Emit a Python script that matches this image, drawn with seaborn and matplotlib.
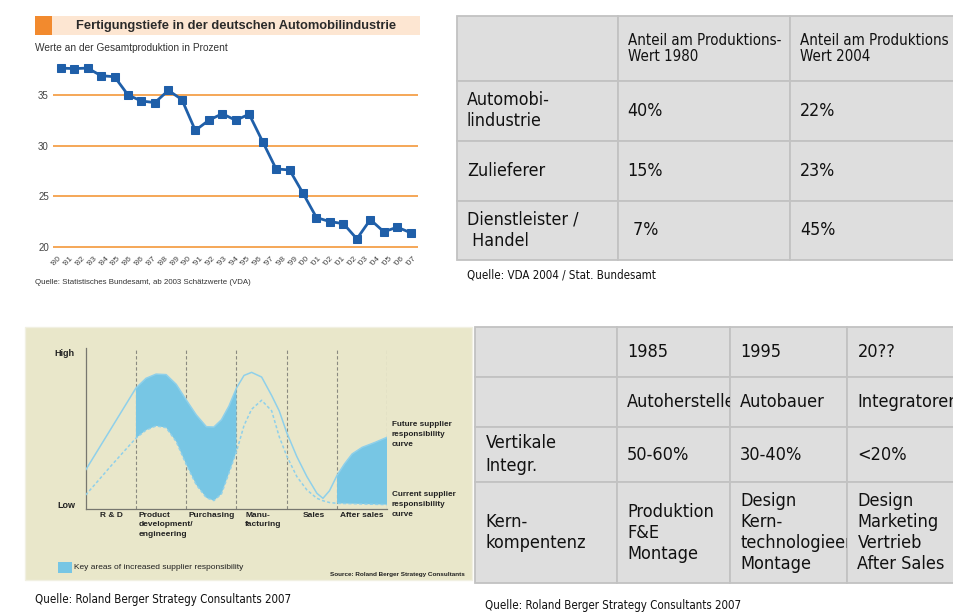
import numpy as np
import pandas as pd
import matplotlib
matplotlib.use("Agg")
import matplotlib.pyplot as plt
import seaborn as sns
from matplotlib.patches import Rectangle

# ---------------- data ----------------
# line chart: Fertigungstiefe
year_labels = ["'80", "'81", "'82", "'83", "'84", "'85", "'86", "'86", "'87", "'88", "'89",
               "'90", "'91", "'92", "'93", "'94", "'95", "'96", "'97", "'98", "'99", "'00",
               "'01", "'02", "'01", "'02", "'03", "'04", "'05", "'06", "'07"]
depth_values = [37.65, 37.6, 37.65, 36.9, 36.8, 35.0, 34.4, 34.25, 35.45, 34.55, 31.5,
                32.5, 33.15, 32.5, 33.1, 30.4, 27.7, 27.6, 25.3, 22.9, 22.5, 22.3, 20.8,
                22.7, 21.5, 21.95, 21.4]
y_ticks = [20, 25, 30, 35]

# table 1
t1_header = ["", "Anteil am Produktions-\nWert 1980", "Anteil am Produktions\nWert 2004"]
t1_rows = ["Automobi-\nlindustrie", "Zulieferer", "Dienstleister /\n Handel"]
t1_1980 = ["40%", "15%", " 7%"]
t1_2004 = ["22%", "23%", "45%"]

# diagram: supplier responsibility
stages = ["R & D", "Product\ndevelopment/\nengineering", "Purchasing", "Manu-\nfacturing",
          "Sales", "After sales"]
curve_x = [0, 0.25, 0.5, 0.75, 1.0, 1.2, 1.4, 1.6, 1.8, 2.0, 2.2, 2.4, 2.55, 2.7, 2.85, 3.0,
           3.15, 3.3, 3.5, 3.7, 3.85, 4.0, 4.2, 4.4, 4.6, 4.72, 4.85, 5.0, 5.15, 5.3, 5.5,
           5.75, 6.0]
future_resp = [24.4, 37.1, 49.8, 62.5, 75.2, 81.2, 83.8, 83.5, 77.5, 67.8, 58.5, 51.2, 51.0,
               55.5, 64.0, 75.2, 83.0, 84.9, 82.0, 70.5, 61.0, 47.5, 32.7, 20.3, 9.9, 6.8,
               11.5, 21.0, 28.2, 34.3, 38.4, 41.4, 44.7]
current_resp = [8.9, 17.8, 26.8, 35.5, 44.1, 49.1, 51.7, 50.6, 42.0, 27.8, 15.2, 7.2, 5.4,
                9.5, 22.4, 35.8, 52.0, 62.0, 67.6, 61.0, 45.0, 33.0, 20.3, 12.0, 6.8, 5.3,
                4.2, 3.7, 3.6, 3.5, 3.3, 3.1, 2.9]
key_areas = [(1, 3), (5, 6)]

# table 2
t2_years = ["", "1985", "1995", "20??"]
t2_types = ["", "Autohersteller", "Autobauer", "Integratoren"]
t2_vert = ["Vertikale\nIntegr.", "50-60%", "30-40%", "<20%"]
t2_kern = ["Kern-\nkompentenz", "Produktion\nF&E\nMontage",
           "Design\nKern-\ntechnologieen\nMontage", "Design\nMarketing\nVertrieb\nAfter Sales"]

# ---------------- setup ----------------
sns.set_theme(style="white")
plt.rcParams['font.family'] = ['DejaVu Sans']

W, H = 954, 614
fig = plt.figure(figsize=(W / 100, H / 100), dpi=100)
fig.patch.set_facecolor('white')

NARROW = ['Liberation Sans Narrow', 'Liberation Sans', 'DejaVu Sans']
TAB = dict(family=['DejaVu Sans'], fontstretch='condensed')


def px_axes(x0, y0, x1, y1):
    return fig.add_axes([x0 / W, 1 - y1 / H, (x1 - x0) / W, (y1 - y0) / H])


bg = px_axes(0, 0, W, H)
bg.set_xlim(0, W)
bg.set_ylim(H, 0)
bg.axis('off')

# ---------------- top-left line chart ----------------
bg.add_patch(Rectangle((35, 16), 17, 19, facecolor='#f28a2e', lw=0))
bg.add_patch(Rectangle((52, 16), 368, 19, facecolor='#fde6d2', lw=0))
bg.text(236, 26, "Fertigungstiefe in der deutschen Automobilindustrie", ha='center',
        va='center', fontsize=9.3, fontweight='bold', color='#2a2a2a', family=NARROW)
bg.text(35, 48, "Werte an der Gesamtproduktion in Prozent", ha='left', va='center',
        fontsize=7.3, color='#333333', family=NARROW)
bg.text(35, 283, "Quelle: Statistisches Bundesamt, ab 2003 Schätzwerte (VDA)", ha='left',
        va='center', fontsize=5.7, color='#333333', family=NARROW)

ax1 = px_axes(53, 60, 418, 250)
ax1.set_facecolor('none')
for yt in y_ticks:
    ax1.axhline(yt, color='#f5a04a', lw=1.3, zorder=1)
df1 = pd.DataFrame({'idx': np.arange(len(depth_values)), 'val': depth_values})
sns.lineplot(data=df1, x='idx', y='val', ax=ax1, color='#1f5fa9', lw=2, marker='s',
             markersize=5.6, markeredgecolor='#1f5fa9', zorder=3)
ax1.set_xlim(-0.57, 26.54)
ax1.set_ylim(19.70, 38.45)
ax1.set_yticks(y_ticks)
ax1.set_yticklabels([str(v) for v in y_ticks], fontsize=7, color='#444444', family=NARROW)
tick_pos = np.linspace(0, len(depth_values) - 1 + 0.3, len(year_labels))
ax1.set_xticks(tick_pos)
ax1.set_xticklabels(year_labels, rotation=45, ha='right', va='center', rotation_mode='anchor',
                    fontsize=6.0, color='#444444', family=NARROW)
ax1.tick_params(axis='both', length=0, pad=3)
ax1.tick_params(axis='x', pad=5)
ax1.set_xlabel('')
ax1.set_ylabel('')
for s in ax1.spines.values():
    s.set_visible(False)
ax1.grid(False)


# ---------------- table helper ----------------
def draw_table(xs, ys, rows, sizes, lsps, pad=10):
    for r, row in enumerate(rows):
        for c, txt in enumerate(row):
            rect = Rectangle((xs[c], ys[r]), xs[c + 1] - xs[c], ys[r + 1] - ys[r],
                             facecolor='#dedede', edgecolor='#c2c2c2', lw=1.3)
            bg.add_patch(rect)
            if txt:
                t = bg.text(xs[c] + pad, (ys[r] + ys[r + 1]) / 2, txt, ha='left',
                            va='center', fontsize=sizes[r], color='#111111',
                            linespacing=lsps[r], clip_on=True, **TAB)
                t.set_clip_path(rect)
                t.set_clip_on(True)


# top-right table
t1_cells = [t1_header] + [[t1_rows[i], t1_1980[i], t1_2004[i]] for i in range(len(t1_rows))]
draw_table([457, 617.7, 790, 1000], [16, 80.7, 140.7, 200.7, 260], t1_cells,
           [10.8, 12.8, 12.8, 12.8], [1.05, 1.25, 1.25, 1.25], pad=10)
bg.text(467, 275, "Quelle: VDA 2004 / Stat. Bundesamt", ha='left', va='center',
        fontsize=8.3, color='#111111', **TAB)

# bottom-right table
t2_cells = [t2_years, t2_types, t2_vert, t2_kern]
draw_table([475, 616.7, 729.7, 847, 1000], [326.7, 376.7, 426.7, 482.3, 583.3], t2_cells,
           [13, 13, 13, 13], [1.25, 1.25, 1.3, 1.22], pad=10.5)
bg.text(485, 606, "Quelle: Roland Berger Strategy Consultants 2007", ha='left',
        va='center', fontsize=8.3, color='#111111', **TAB)

# ---------------- bottom-left diagram ----------------
bg.add_patch(Rectangle((25, 327), 447, 253, facecolor='#e9e7ca', edgecolor='#f1f0e2', lw=1))
bg.text(35, 600, "Quelle: Roland Berger Strategy Consultants 2007", ha='left', va='center',
        fontsize=8.3, color='#111111', **TAB)

ax3 = px_axes(85.7, 348, 387.3, 509.3)
ax3.set_facecolor('none')
ax3.set_xlim(0, 6)
ax3.set_ylim(0, 100)
for xv in range(1, 7):
    ax3.axvline(xv, color='#8a8a80', lw=0.8, ls=(0, (3, 2)), zorder=1)
cx = np.array(curve_x)
fut = np.array(future_resp)
cur = np.array(current_resp)
mask = np.zeros_like(cx, dtype=bool)
for a, b in key_areas:
    mask |= (cx >= a) & (cx <= b)
ax3.fill_between(cx, cur, fut, where=mask, color='#77c6e4', lw=0, zorder=2)
df3 = pd.DataFrame({'x': curve_x, 'future': future_resp, 'current': current_resp})
sns.lineplot(data=df3, x='x', y='future', ax=ax3, color='#8fd0ea', lw=1.1, zorder=3)
sns.lineplot(data=df3, x='x', y='current', ax=ax3, color='#8fd0ea', lw=1.1,
             dashes=False, zorder=3).lines[-1].set_linestyle((0, (2, 1.5)))
ax3.set_xlabel('')
ax3.set_ylabel('')
ax3.set_xticks([])
ax3.set_yticks([])
ax3.grid(False)
for side in ['top', 'right']:
    ax3.spines[side].set_visible(False)
for side in ['left', 'bottom']:
    ax3.spines[side].set_color('#77776f')
    ax3.spines[side].set_linewidth(0.9)

DG = dict(family=NARROW, color='#222222')
bg.text(75, 353, "High", ha='right', va='center', fontsize=6.5, fontweight='bold', **DG)
bg.text(75, 505, "Low", ha='right', va='center', fontsize=6.5, fontweight='bold', **DG)
stage_x = [100, 138.3, 188.3, 245.3, 302.3, 340]
for sx, lab in zip(stage_x, stages):
    bg.text(sx, 512, lab, ha='left', va='top', fontsize=6.0, fontweight='bold',
            linespacing=1.5, **DG)
bg.text(391.7, 421.5, "Future supplier\nresponsibility\ncurve", ha='left', va='top',
        fontsize=5.9, fontweight='bold', linespacing=1.5, **DG)
bg.text(391.7, 491.5, "Current supplier\nresponsibility\ncurve", ha='left', va='top',
        fontsize=5.9, fontweight='bold', linespacing=1.5, **DG)
bg.add_patch(Rectangle((58.3, 561.7), 13.4, 11.6, facecolor='#77c6e4', lw=0))
bg.text(74.3, 567.5, "Key areas of increased supplier responsibility", ha='left',
        va='center', fontsize=6.0, **DG)
bg.text(465, 574.5, "Source: Roland Berger Strategy Consultants", ha='right', va='center',
        fontsize=4.6, fontweight='bold', **DG)

fig.savefig("out.png", dpi=100, facecolor='white')
